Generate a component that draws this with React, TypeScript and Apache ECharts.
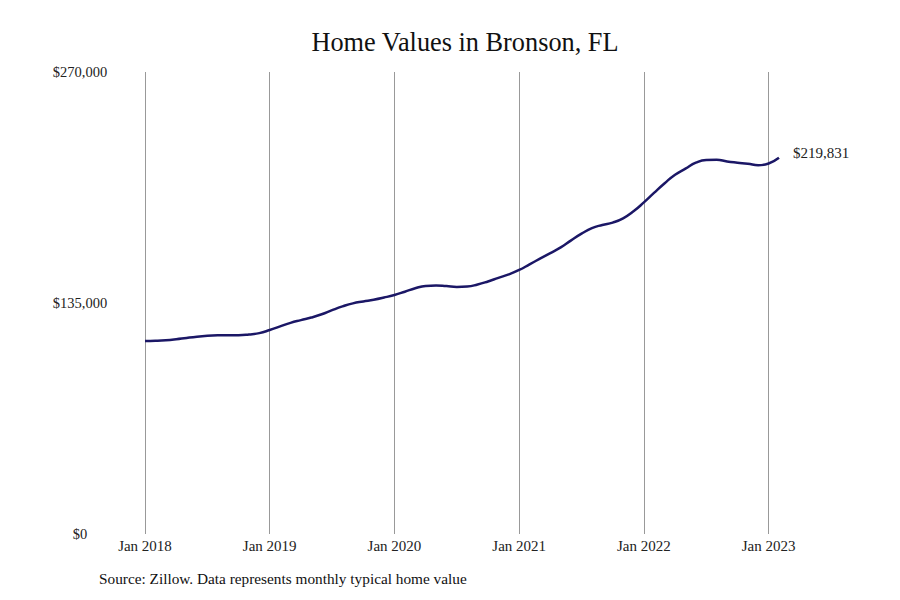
import React, { useEffect, useRef } from "react";
import * as echarts from "echarts";

const months: string[] = [];
const years = [2018, 2019, 2020, 2021, 2022, 2023];
const monthNames = ["Jan", "Feb", "Mar", "Apr", "May", "Jun", "Jul", "Aug", "Sep", "Oct", "Nov", "Dec"];
for (const y of years) {
  for (const m of monthNames) {
    if (y === 2023 && m !== "Jan" && m !== "Feb") continue;
    months.push(`${m} ${y}`);
  }
}

const homeValues = [
  112800, 112900, 113200, 113800, 114600, 115300, 115800, 116100, 116200, 116200, 116600, 117400,
  119200, 121300, 123400, 125000, 126500, 128400, 130800, 133000, 134800, 135900, 136900, 138200,
  139700, 141600, 143600, 145000, 145300, 144900, 144400, 144600, 145800, 147600, 149700, 151700,
  154300, 157600, 160900, 164200, 167500, 171600, 175500, 178800, 180600, 182000, 184500, 188600,
  193800, 199500, 205000, 210000, 213500, 217000, 218600, 218700, 217700, 217000, 216400, 215500,
  216500, 219831,
];

const yTicks = [0, 135000, 270000];
const titleText = "Home Values in Bronson, FL";
const sourceText = "Source: Zillow. Data represents monthly typical home value";

const FONT = "'Liberation Serif', 'Times New Roman', serif";

export default function App() {
  const ref = useRef<HTMLDivElement>(null);
  useEffect(() => {
    if (!ref.current) return;
    const chart = echarts.init(ref.current, undefined, { renderer: "svg" });
    const fmt = (v: number) => "$" + v.toLocaleString("en-US");
    chart.setOption({
      animation: false,
      backgroundColor: "#ffffff",
      textStyle: { fontFamily: FONT },
      title: {
        text: titleText,
        left: 460,
        textAlign: "center",
        top: 24,
        textStyle: { fontFamily: FONT, fontSize: 26.3, fontWeight: "normal", color: "#111" },
      },
      grid: { left: 145, right: 121, top: 72, bottom: 66, containLabel: false },
      xAxis: {
        type: "category",
        data: months,
        boundaryGap: false,
        axisLine: { show: false },
        axisTick: { show: false },
        axisLabel: {
          interval: (i: number, v: string) => v.startsWith("Jan"),
          fontFamily: FONT,
          fontSize: 15,
          color: "#222",
          margin: 4,
        },
        splitLine: {
          show: true,
          interval: (i: number, v: string) => v.startsWith("Jan"),
          lineStyle: { color: "#999", width: 1 },
        },
      },
      yAxis: {
        type: "value",
        min: yTicks[0],
        max: yTicks[yTicks.length - 1],
        interval: yTicks[1] - yTicks[0],
        axisLine: { show: false },
        axisTick: { show: false },
        splitLine: { show: false },
        axisLabel: {
          formatter: (v: number) => fmt(v),
          align: "center",
          margin: 65,
          fontFamily: FONT,
          fontSize: 14.5,
          color: "#222",
        },
      },
      series: [
        {
          type: "line",
          data: homeValues,
          smooth: true,
          symbol: "none",
          lineStyle: { color: "#1b1766", width: 2.5 },
          endLabel: {
            show: true,
            formatter: (p: any) => fmt(p.value),
            fontFamily: FONT,
            fontSize: 15,
            color: "#222",
            distance: 14,
            offset: [0, -5],
          },
        },
      ],
      graphic: [
        {
          type: "text",
          left: 99,
          top: 571,
          style: { text: sourceText, fontFamily: FONT, fontSize: 15.3, fill: "#111" },
        },
      ],
    });
    return () => chart.dispose();
  }, []);
  return (
    <div
      ref={ref}
      style={{ position: "fixed", left: 0, top: 0, width: 900, height: 600 }}
    />
  );
}
